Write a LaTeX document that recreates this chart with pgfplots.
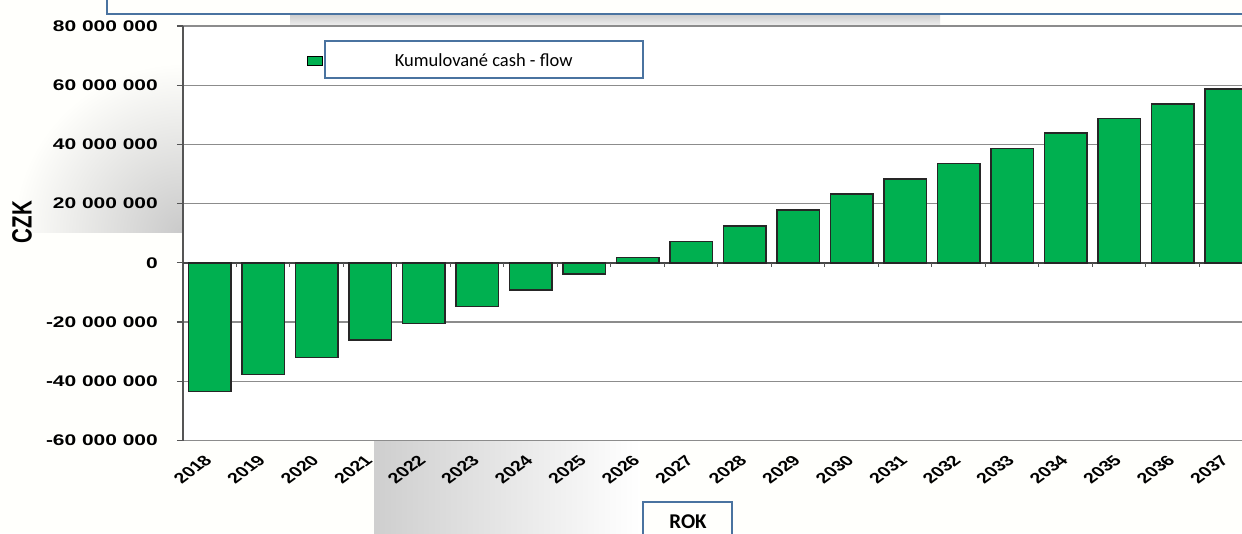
\documentclass[border=0pt]{standalone}
\usepackage{pgfplots}
\pgfplotsset{compat=1.18}
\usepackage{graphicx}
\usepackage{fontspec}
\setmainfont{Liberation Sans}
\newfontfamily\calibri{Carlito}
\definecolor{barGreen}{RGB}{0,176,80}
\definecolor{gridgray}{RGB}{140,140,140}
\definecolor{axisgray}{RGB}{85,85,85}
\definecolor{zerogray}{RGB}{70,70,70}
\definecolor{boxblue}{RGB}{74,115,160}
\newcommand\sx[1]{\scalebox{1.36}[1]{#1}}
\newcommand\xl[1]{\scalebox{1.36}[1]{\rotatebox{45}{#1}}}
\begin{document}
\begin{tikzpicture}[x=1pt,y=1pt]
\useasboundingbox (0,0) rectangle (1242,533);
\fill[white!98!yellow!60!white] (0,0) rectangle (1242,533);
% background decorations
\begin{scope}
\clip (0,300) rectangle (183,533);
\shade[inner color=gray!42, outer color=white!98!yellow!60!white] (183,300) circle (170);
\end{scope}
\shade[left color=gray!38, right color=white] (374,-2) rectangle (640,92.5);
\shade[top color=gray!40, bottom color=gray!12] (290,507) rectangle (940,519);
\fill[white] (183,92.5) rectangle (1253,507);
\begin{axis}[
  at={(183pt,92.5pt)}, anchor=south west,
  scale only axis, width=1070pt, height=414.5pt,
  xmin=-0.5, xmax=19.5, ymin=-60, ymax=80,
  axis x line*=bottom, axis y line*=left, axis line style={-},
  x axis line style={draw=gridgray, line width=1.3pt},
  y axis line style={draw=axisgray, line width=1.5pt},
  ymajorgrids, grid style={draw=gridgray, line width=1.3pt},
  ytick={-60,-40,-20,0,20,40,60,80},
  yticklabels={\sx{-60 000 000},\sx{-40 000 000},\sx{-20 000 000},\sx{0},\sx{20 000 000},\sx{40 000 000},\sx{60 000 000},\sx{80 000 000}},
  yticklabel style={font=\fontsize{15.4}{18}\selectfont\bfseries, anchor=east, inner sep=0pt, xshift=-19pt},
  tick align=outside, major tick length=6pt,
  ytick style={draw=axisgray, line width=1.2pt},
  xtick={0,...,19},
  xticklabels={\xl{2018},\xl{2019},\xl{2020},\xl{2021},\xl{2022},\xl{2023},\xl{2024},\xl{2025},\xl{2026},\xl{2027},\xl{2028},\xl{2029},\xl{2030},\xl{2031},\xl{2032},\xl{2033},\xl{2034},\xl{2035},\xl{2036},\xl{2037}},
  xticklabel style={font=\fontsize{14.5}{17}\selectfont\bfseries, anchor=north east, inner sep=0pt, xshift=3.5pt, yshift=-7.5pt},
  xtick style={draw=none},
  extra y ticks={0}, extra y tick labels={},
  extra y tick style={grid style={draw=zerogray, line width=1.3pt}, major tick length=0pt},
  xlabel={ROK},
  xlabel style={at={(axis description cs:0.472,-0.2111)}, anchor=base, font=\calibri\bfseries\fontsize{21}{24}\selectfont},
  ylabel={\sx{\rotatebox{90}{CZK}}},
  every axis y label/.style={at={(axis description cs:-0.1505,0.527)}, anchor=center, font=\fontsize{20.5}{24}\selectfont\bfseries},
  legend style={at={(axis description cs:0.1156,0.9156)}, anchor=west, draw=none, fill=none,
    inner sep=0pt, outer sep=0pt, nodes={inner sep=0pt}, column sep=71.7pt,
    font=\calibri\fontsize{18.5}{22}\selectfont},
  legend image code/.code={\draw[fill=barGreen, draw=black, line width=0.8pt] (0pt,-4.5pt) rectangle (15.6pt,4.5pt);},
]
\addplot[ybar, bar width=42.4pt, fill=barGreen, draw=black!85, line width=1.4pt] coordinates {
(0,-43.5) (1,-37.8) (2,-31.9) (3,-26.1) (4,-20.4) (5,-14.8) (6,-9.2) (7,-3.7)
(8,1.8) (9,7.2) (10,12.5) (11,17.9) (12,23.3) (13,28.3) (14,33.5) (15,38.7)
(16,43.8) (17,48.8) (18,53.6) (19,58.7)};
\addlegendentry{Kumulované cash - flow}
\pgfplotsinvokeforeach{0.5,1.5,...,18.5}{\draw[axisgray, line width=1pt] (axis cs:#1,0) -- (axis cs:#1,-1.35);}
\end{axis}
% text boxes overlaid on the slide
\draw[boxblue, line width=2pt] (325,454.7) rectangle (642.7,492.3);
\draw[boxblue, line width=2pt] (107,519) rectangle (1260,545);
\draw[boxblue, line width=2pt] (643,-5) rectangle (732,31);
\end{tikzpicture}
\end{document}
